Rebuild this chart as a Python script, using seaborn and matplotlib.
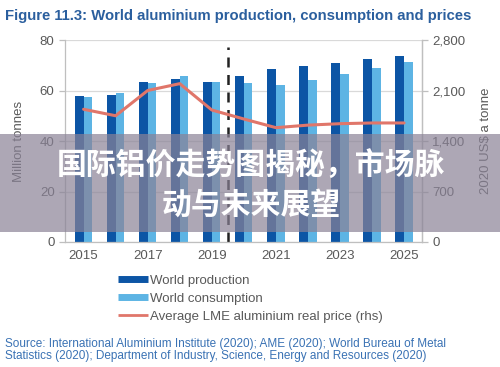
import matplotlib
matplotlib.use("Agg")
import matplotlib.pyplot as plt
from matplotlib.lines import Line2D
from matplotlib.patches import Rectangle
import seaborn as sns
import pandas as pd

years = [2015, 2016, 2017, 2018, 2019, 2020, 2021, 2022, 2023, 2024, 2025]
production = [57.9, 58.2, 63.4, 64.4, 63.4, 65.9, 68.5, 69.7, 71.0, 72.3, 73.5]
consumption = [57.3, 58.9, 63.0, 65.7, 63.5, 63.0, 62.0, 64.2, 66.4, 68.8, 71.2]
price = [1840, 1750, 2100, 2195, 1830, 1705, 1585, 1620, 1640, 1650, 1650]
series_names = ["World production", "World consumption", "Average LME aluminium real price (rhs)"]
left_ticks = [0, 20, 40, 60, 80]
right_ticks = [0, 700, 1400, 2100, 2800]
label_years = [2015, 2017, 2019, 2021, 2023, 2025]

c_prod = "#0c55a5"
c_cons = "#5db4e4"
c_price = "#e0766a"
grey = "#595959"

sns.set_theme(style="white")
plt.rcParams["font.family"] = ["Liberation Sans", "DejaVu Sans"]

bars = pd.DataFrame({
    "year": years * 2,
    "series": [series_names[0]] * len(years) + [series_names[1]] * len(years),
    "value": production + consumption,
})
line_df = pd.DataFrame({"year": years, "price": price})

fig = plt.figure(figsize=(5, 3.67), dpi=100)
ax = fig.add_axes([0.13, 0.3406, 0.714, 0.5504])

sns.barplot(data=bars, x="year", y="value", hue="series", native_scale=True,
            palette=[c_prod, c_cons], width=0.54, gap=0, saturation=1,
            linewidth=0, edgecolor="none", ax=ax, legend=False)

ax.set_xlim(2014.42, 2025.56)
ax.set_ylim(0, 80)
ax.set_yticks(left_ticks)
ax.set_yticklabels([str(v) for v in left_ticks])
ax.yaxis.grid(True, color="#d9d9d9", lw=0.9)
ax.set_axisbelow(True)

ax.set_xticks([y - 0.5 for y in years] + [years[-1] + 0.5])
ax.set_xticklabels([])
ax.set_xticks(label_years, minor=True)
ax.set_xticklabels([str(y) for y in label_years], minor=True)
ax.tick_params(axis="x", which="major", length=4, color="#bfbfbf", width=0.9)
ax.tick_params(axis="x", which="minor", length=0, pad=6, labelsize=9.5, labelcolor=grey)
ax.tick_params(axis="y", length=4, color="#bfbfbf", width=0.9, labelsize=9.5, labelcolor=grey, left=True)
ax.set_xlabel("")
ax.set_ylabel("Million tonnes", fontsize=9.5, color=grey, labelpad=11)

ax.spines["top"].set_visible(False)
for s in ["left", "bottom", "right"]:
    ax.spines[s].set_color("#bfbfbf")
    ax.spines[s].set_linewidth(0.9)

ax.axvline(2019.5, ymin=0, ymax=0.965, color="#222222", lw=1.8, ls=(0, (4, 3)))

ax2 = ax.twinx()
sns.lineplot(data=line_df, x="year", y="price", color=c_price, lw=2.2, ax=ax2)
ax2.set_ylim(0, 2800)
ax2.set_yticks(right_ticks)
ax2.set_yticklabels([f"{v:,}" for v in right_ticks])
ax2.tick_params(axis="y", length=4, color="#bfbfbf", width=0.9, labelsize=9.5, labelcolor=grey, right=True)
ax2.set_ylabel("2020 US$ a tonne", fontsize=9.5, color=grey, labelpad=10)
ax2.set_xlabel("")
for s in ["top", "left", "bottom"]:
    ax2.spines[s].set_visible(False)
ax2.spines["right"].set_color("#bfbfbf")
ax2.spines["right"].set_linewidth(0.9)
ax2.set_xlim(2014.42, 2025.56)

handles = [
    Line2D([], [], color=c_prod, lw=5, solid_capstyle="butt"),
    Line2D([], [], color=c_cons, lw=5, solid_capstyle="butt"),
    Line2D([], [], color=c_price, lw=2, solid_capstyle="butt"),
]
fig.legend(handles, series_names, loc="upper left", bbox_to_anchor=(0.236, 0.252),
           frameon=False, fontsize=9.5, handlelength=2.3, handletextpad=0.12,
           labelspacing=0.45, borderaxespad=0, borderpad=0, labelcolor=grey)

fig.text(0.01, 0.975, "Figure 11.3: World aluminium production, consumption and prices",
         fontsize=10.7, fontweight="bold", color="#2b5f9e", ha="left", va="top")
fig.text(0.01, 1 - 350 / 367,
         "Source: International Aluminium Institute (2020); AME (2020); World Bureau of Metal\n"
         "Statistics (2020); Department of Industry, Science, Energy and Resources (2020)",
         fontsize=8.5, color="#3a72b4", ha="left", va="center", linespacing=1.05)

fig.patches.append(Rectangle((0, 1 - 232 / 367), 1, 98 / 367, transform=fig.transFigure,
                             facecolor="#8a8296", alpha=0.7, edgecolor="none", zorder=10))
fig.text(0.502, 1 - 185 / 367, "国际铝价走势图揭秘，市场脉\n动与未来展望",
         fontsize=21.5, fontweight="bold", color="white", ha="center", va="center",
         multialignment="center", linespacing=1.35,
         family=["Noto Sans CJK SC", "DejaVu Sans"], zorder=11)

fig.savefig("out.png", dpi=100)
